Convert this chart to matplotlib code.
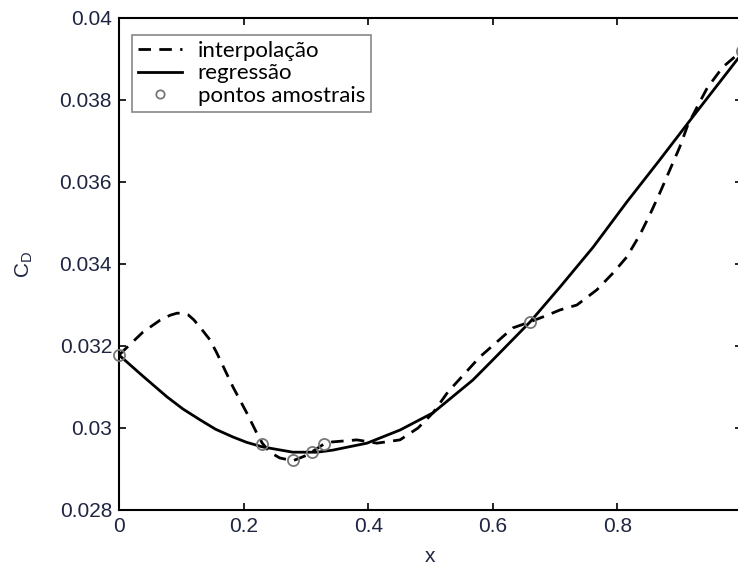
import matplotlib.pyplot as plt
import matplotlib

matplotlib.rcParams['font.family'] = ['Liberation Sans', 'DejaVu Sans']

# pontos amostrais
xs = [0.0, 0.230, 0.279, 0.310, 0.329, 0.660, 1.0]
ys = [0.03178, 0.02960, 0.02922, 0.02941, 0.02961, 0.03259, 0.03920]

# curva de interpolação
xi = [0.0, 0.022, 0.0385, 0.066, 0.082, 0.093, 0.103, 0.111, 0.120, 0.130, 0.146, 0.157,
      0.183, 0.205, 0.221, 0.230, 0.242, 0.258, 0.279, 0.302, 0.329, 0.342, 0.382, 0.414,
      0.451, 0.480, 0.504, 0.528, 0.579, 0.632, 0.660, 0.684, 0.708, 0.735, 0.767, 0.793,
      0.815, 0.836, 0.852, 0.868, 0.884, 0.900, 0.913, 0.928, 0.944, 0.969, 0.992, 1.0]
yi = [0.03178, 0.03210, 0.03234, 0.03263, 0.03275, 0.03280, 0.03280, 0.03276, 0.03264,
      0.03246, 0.03215, 0.03183, 0.03100, 0.03037, 0.02988, 0.02963, 0.02941, 0.02927,
      0.02920, 0.02934, 0.02961, 0.02966, 0.02971, 0.02963, 0.02971, 0.03000, 0.03037,
      0.03088, 0.03173, 0.03244, 0.03259, 0.03273, 0.03288, 0.03300, 0.03337, 0.03378,
      0.03417, 0.03471, 0.03520, 0.03573, 0.03629, 0.03685, 0.03739, 0.03783, 0.03829,
      0.03880, 0.03910, 0.03920]

# curva de regressão
xr = [0.0, 0.038, 0.077, 0.103, 0.130, 0.155, 0.183, 0.205, 0.230, 0.279, 0.318, 0.343,
      0.398, 0.451, 0.504, 0.568, 0.600, 0.660, 0.708, 0.761, 0.815, 0.868, 0.921, 0.992,
      1.0]
yr = [0.03178, 0.03127, 0.03076, 0.03046, 0.03020, 0.02997, 0.02978, 0.02965, 0.02954,
      0.02941, 0.02941, 0.02946, 0.02963, 0.02995, 0.03037, 0.03117, 0.03166, 0.03259,
      0.03344, 0.03441, 0.03551, 0.03654, 0.03759, 0.03898, 0.03912]

fig = plt.figure(figsize=(7.38, 5.68), dpi=100)
ax = fig.add_axes([119 / 738, 58 / 568, 623 / 738, 492 / 568])

ax.plot(xi, yi, color='black', lw=2, linestyle=(0, (4.5, 3)), label='interpolação')
ax.plot(xr, yr, color='black', lw=2, label='regressão')
ax.plot(xs, ys, 'o', ms=8, mfc='none', mec='#777777', mew=1.3, label='pontos amostrais',
        clip_on=False, zorder=5)

ax.set_xlim(0, 1)
ax.set_ylim(0.028, 0.04)
ax.set_xticks([0, 0.2, 0.4, 0.6, 0.8, 1])
ax.set_xticklabels(['0', '0.2', '0.4', '0.6', '0.8', '1'])
ax.set_yticks([0.028, 0.03, 0.032, 0.034, 0.036, 0.038, 0.04])
ax.set_yticklabels(['0.028', '0.03', '0.032', '0.034', '0.036', '0.038', '0.04'])
ax.tick_params(direction='in', length=5, width=1.2, top=True, right=True,
               labelsize=15, labelcolor='#1f2540', pad=5)
for s in ax.spines.values():
    s.set_linewidth(1.5)

ax.set_xlabel('x', fontsize=15, color='#1f2540', labelpad=8)
ax.set_ylabel(r'$\mathregular{C_D}$', fontsize=15, color='#1f2540')
ax.yaxis.set_label_coords(-0.135, 0.5)

leg = ax.legend(loc='upper left', bbox_to_anchor=(0.021, 0.965), fancybox=False,
                edgecolor='#888888', framealpha=1, borderpad=0.25, labelspacing=0.12,
                handlelength=2.0, handletextpad=0.7, borderaxespad=0,
                prop={'family': 'Lato', 'size': 16})
leg.get_frame().set_linewidth(1.2)
leg.legend_handles[2].set_markersize(6)

fig.savefig('out.png', dpi=100)
